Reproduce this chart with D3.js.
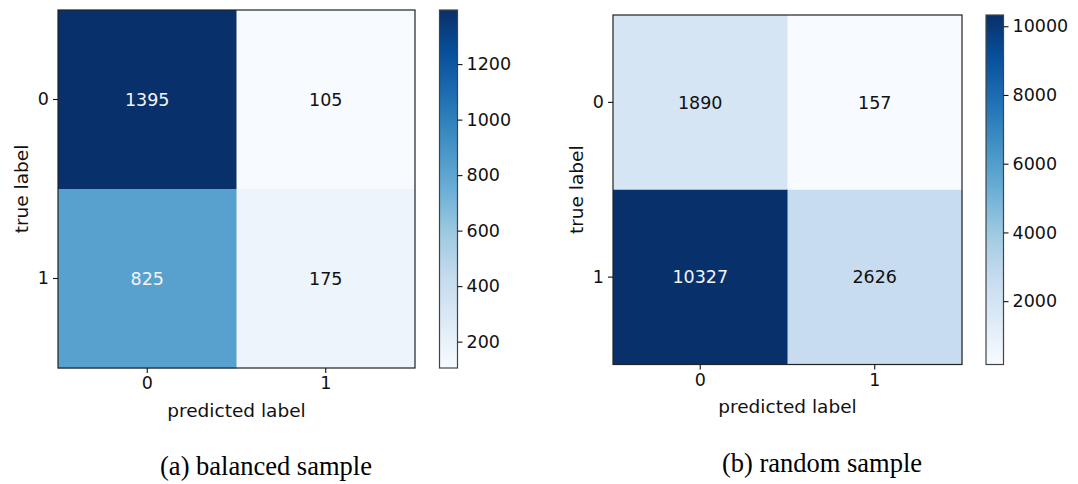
<!DOCTYPE html>
<html>
<head>
<meta charset="utf-8">
<script src="https://cdn.jsdelivr.net/npm/d3@7"></script>
<style>
  body { margin: 0; background: #fff; }
  svg { display: block; }
  .tick text { font-family: "DejaVu Sans", sans-serif; font-size: 17.5px; fill: #111; }
  .tick line { stroke: #111; }
  .domain { display: none; }
</style>
</head>
<body>
<div id="chart"></div>
<script>
// Data
var classLabels = ["0", "1"];
var balancedValues = [[1395, 105], [825, 175]];
var randomValues = [[1890, 157], [10327, 2626]];
var balancedTicks = [200, 400, 600, 800, 1000, 1200];
var randomTicks = [2000, 4000, 6000, 8000, 10000];
var captions = ["(a) balanced sample", "(b) random sample"];

// matplotlib "Blues" colormap anchors
var blues = ["#f7fbff", "#deebf7", "#c6dbef", "#9ecae1", "#6baed6",
             "#4292c6", "#2171b5", "#08519c", "#08306b"];

var svg = d3.select("#chart").append("svg")
    .attr("width", 1078)
    .attr("height", 484);

var defs = svg.append("defs");

// panel layouts
var panels = [
  { values: balancedValues, ticks: balancedTicks, caption: captions[0],
    left: 58, top: 10, width: 357, height: 358, cbLeft: 439.5, cbWidth: 18,
    capX: 266, capY: 466 },
  { values: randomValues, ticks: randomTicks, caption: captions[1],
    left: 613, top: 15, width: 349, height: 349.5, cbLeft: 986, cbWidth: 17.5,
    capX: 822, capY: 463 }
];

panels.forEach(function(p, idx) {
  var flat = d3.merge(p.values);
  var vmin = d3.min(flat), vmax = d3.max(flat);

  var color = d3.scaleLinear()
      .domain(blues.map(function(d, i) { return vmin + (vmax - vmin) * i / (blues.length - 1); }))
      .range(blues)
      .interpolate(d3.interpolateRgb);

  var x = d3.scaleBand().domain(classLabels).range([0, p.width]);
  var y = d3.scaleBand().domain(classLabels).range([0, p.height]);

  var g = svg.append("g")
      .attr("transform", "translate(" + p.left + "," + p.top + ")");

  var cells = [];
  p.values.forEach(function(row, i) {
    row.forEach(function(v, j) {
      cells.push({ row: classLabels[i], col: classLabels[j], value: v });
    });
  });

  g.selectAll("rect.cell")
      .data(cells)
      .enter().append("rect")
      .attr("class", "cell")
      .attr("x", function(d) { return x(d.col); })
      .attr("y", function(d) { return y(d.row); })
      .attr("width", x.bandwidth() + 0.5)
      .attr("height", y.bandwidth() + 0.5)
      .attr("fill", function(d) { return color(d.value); });

  var thresh = vmax / 2;
  g.selectAll("text.val")
      .data(cells)
      .enter().append("text")
      .attr("class", "val")
      .attr("x", function(d) { return x(d.col) + x.bandwidth() / 2; })
      .attr("y", function(d) { return y(d.row) + y.bandwidth() / 2; })
      .attr("dy", "0.36em")
      .attr("text-anchor", "middle")
      .style("font-family", "DejaVu Sans, sans-serif")
      .style("font-size", "17.5px")
      .attr("fill", function(d) { return d.value > thresh ? "#f4f4f4" : "#111"; })
      .text(function(d) { return d.value; });

  // frame
  g.append("rect")
      .attr("width", p.width)
      .attr("height", p.height)
      .attr("fill", "none")
      .attr("stroke", "#222")
      .attr("stroke-width", 1.2);

  // axes
  g.append("g")
      .attr("transform", "translate(0," + p.height + ")")
      .call(d3.axisBottom(x).tickSize(5).tickPadding(4));

  g.append("g")
      .call(d3.axisLeft(y).tickSize(5).tickPadding(4));

  g.selectAll(".tick line").attr("stroke-width", 1.1);

  // axis labels
  g.append("text")
      .attr("x", p.width / 2)
      .attr("y", p.height + 42)
      .attr("text-anchor", "middle")
      .attr("dy", "0.36em")
      .style("font-family", "DejaVu Sans, sans-serif")
      .style("font-size", "18.5px")
      .attr("fill", "#111")
      .text("predicted label");

  g.append("text")
      .attr("transform", "translate(-37," + (p.height / 2) + ")rotate(-90)")
      .attr("text-anchor", "middle")
      .attr("dy", "0.36em")
      .style("font-family", "DejaVu Sans, sans-serif")
      .style("font-size", "18.5px")
      .attr("fill", "#111")
      .text("true label");

  // colorbar
  var cbScale = d3.scaleLinear()
      .domain([vmin, vmax])
      .range([p.height, 0]);

  var gradId = "grad" + idx;
  var grad = defs.append("linearGradient")
      .attr("id", gradId)
      .attr("x1", "0").attr("y1", "1")
      .attr("x2", "0").attr("y2", "0");
  grad.selectAll("stop")
      .data(blues)
      .enter().append("stop")
      .attr("offset", function(d, i) { return (i / (blues.length - 1) * 100) + "%"; })
      .attr("stop-color", function(d) { return d; });

  var cb = svg.append("g")
      .attr("transform", "translate(" + p.cbLeft + "," + p.top + ")");

  cb.append("rect")
      .attr("width", p.cbWidth)
      .attr("height", p.height)
      .attr("fill", "url(#" + gradId + ")")
      .attr("stroke", "#444")
      .attr("stroke-width", 1.2);

  cb.append("g")
      .attr("transform", "translate(" + p.cbWidth + ",0)")
      .call(d3.axisRight(cbScale).tickValues(p.ticks).tickSize(5).tickPadding(4)
            .tickFormat(d3.format("d")));

  cb.selectAll(".tick line").attr("stroke-width", 1.1);

  // caption
  svg.append("text")
      .attr("x", p.capX)
      .attr("y", p.capY)
      .attr("dy", "0.35em")
      .attr("text-anchor", "middle")
      .style("font-family", "Liberation Serif, Times New Roman, serif")
      .style("font-size", "26.5px")
      .attr("fill", "#000")
      .text(p.caption);
});
</script>
</body>
</html>
